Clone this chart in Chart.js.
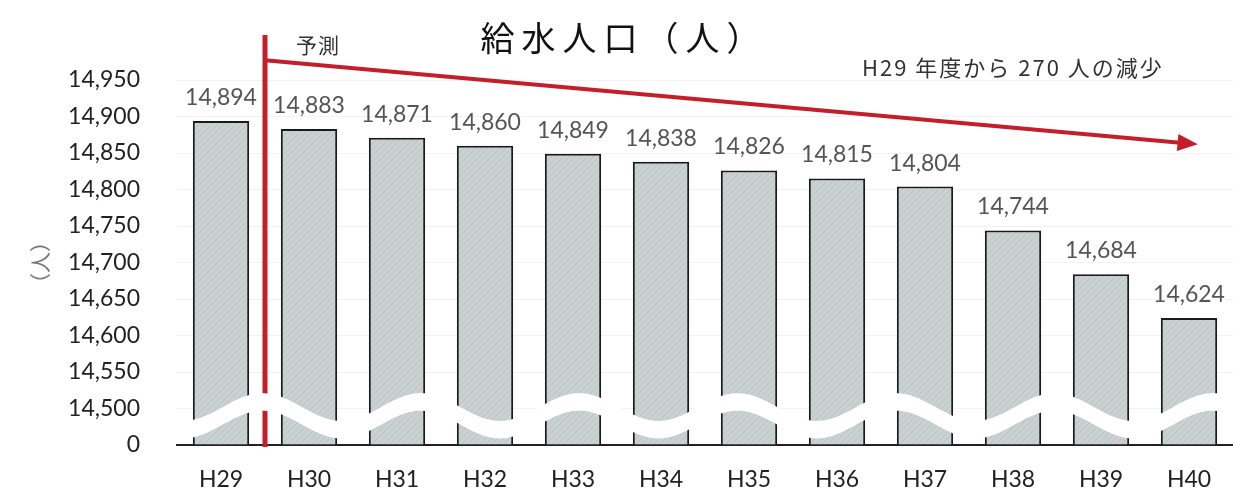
<!DOCTYPE html>
<html>
<head>
<meta charset="utf-8">
<script src="https://cdn.jsdelivr.net/npm/chart.js@4"></script>
<style>
  html, body { margin: 0; padding: 0; background: #fff; overflow: hidden; }
  canvas { display: block; }
</style>
</head>
<body>
<canvas id="chart" width="1233" height="491"></canvas>
<script>
// === Data ===
const categories = ['H29', 'H30', 'H31', 'H32', 'H33', 'H34', 'H35', 'H36', 'H37', 'H38', 'H39', 'H40'];
const population = [14894, 14883, 14871, 14860, 14849, 14838, 14826, 14815, 14804, 14744, 14684, 14624];
const tickLabels = ['0', '14,500', '14,550', '14,600', '14,650', '14,700', '14,750', '14,800', '14,850', '14,900', '14,950'];

// axis is broken between 0 and 14,500: one step covers the gap
const breakBase = 14450;
const axisStep = 50;

const titleText = '給水人口（人）';
const forecastText = '予測';
const noteText = 'H29 年度から 270 人の減少';

// trend arrow, in (category index, population)
const arrowFrom = { x: 0.5, y: 14977 };
const arrowTo = { x: 11.1, y: 14862 };

const RED = '#c41e2a';
const NUM_FONT = 'Lato, "DejaVu Sans", sans-serif';
const JP_FONT = '"Noto Sans CJK JP", "Noto Sans", sans-serif';

// === Bar texture ===
function makePattern() {
    const c = document.createElement('canvas');
    c.width = 6; c.height = 6;
    const g = c.getContext('2d');
    g.fillStyle = '#cad1d1';
    g.fillRect(0, 0, 6, 6);
    g.strokeStyle = '#bac2c2';
    g.lineWidth = 1;
    g.beginPath();
    g.moveTo(0, 6); g.lineTo(6, 0);
    g.moveTo(-3, 3); g.lineTo(3, -3);
    g.moveTo(3, 9); g.lineTo(9, 3);
    g.stroke();
    return document.getElementById('chart').getContext('2d').createPattern(c, 'repeat');
}

// === Overlays: labels, forecast line, wave break, arrow ===
const overlay = {
    id: 'overlay',
    afterDatasetsDraw(chart) {
        const { ctx, chartArea } = chart;
        const xs = chart.scales.x, ys = chart.scales.y;
        const step = xs.getPixelForValue(1) - xs.getPixelForValue(0);
        const catX = u => xs.getPixelForValue(0) + u * step;
        const valY = v => ys.getPixelForValue(v - breakBase);

        // value labels
        ctx.save();
        ctx.font = '23px ' + NUM_FONT;
        ctx.fillStyle = '#555';
        ctx.textAlign = 'center';
        ctx.textBaseline = 'bottom';
        chart.getDatasetMeta(0).data.forEach((bar, i) => {
            ctx.fillText(population[i].toLocaleString('en-US'), bar.x, bar.y - 12);
        });
        ctx.restore();

        // forecast divider
        const divX = catX(0.5);
        ctx.save();
        ctx.strokeStyle = RED;
        ctx.lineWidth = 5;
        ctx.beginPath();
        ctx.moveTo(divX, chartArea.top - 45);
        ctx.lineTo(divX, chartArea.bottom + 2);
        ctx.stroke();
        ctx.restore();

        // white wave across the axis break
        const mid = 40, amp = 19, half = 12, period = 1.8, peak = 0.47;
        const waveY = (px, off) => {
            const u = (px - xs.getPixelForValue(0)) / step;
            return ys.getPixelForValue(mid + off + amp * Math.cos(2 * Math.PI * (u - peak) / period));
        };
        ctx.save();
        ctx.fillStyle = '#fff';
        ctx.beginPath();
        for (let px = chartArea.left; px <= chartArea.right; px += 2) ctx.lineTo(px, waveY(px, half));
        for (let px = chartArea.right; px >= chartArea.left; px -= 2) ctx.lineTo(px, waveY(px, -half));
        ctx.closePath();
        ctx.fill();
        ctx.restore();

        // trend arrow
        const x1 = catX(arrowFrom.x), y1 = valY(arrowFrom.y);
        const x2 = catX(arrowTo.x), y2 = valY(arrowTo.y);
        const ang = Math.atan2(y2 - y1, x2 - x1);
        const head = 22;
        ctx.save();
        ctx.strokeStyle = RED;
        ctx.fillStyle = RED;
        ctx.lineWidth = 4;
        ctx.beginPath();
        ctx.moveTo(divX, y1);
        ctx.lineTo(x2 - head * 0.8 * Math.cos(ang), y2 - head * 0.8 * Math.sin(ang));
        ctx.stroke();
        ctx.beginPath();
        ctx.moveTo(x2, y2);
        ctx.lineTo(x2 - head * Math.cos(ang - 0.4), y2 - head * Math.sin(ang - 0.4));
        ctx.lineTo(x2 - head * Math.cos(ang + 0.4), y2 - head * Math.sin(ang + 0.4));
        ctx.closePath();
        ctx.fill();
        ctx.restore();

        // texts
        ctx.save();
        ctx.fillStyle = '#111';
        ctx.textBaseline = 'middle';
        ctx.textAlign = 'center';
        ctx.font = '34px ' + JP_FONT;
        ctx.letterSpacing = '7px';
        ctx.fillText(titleText, 624, 38);
        ctx.font = '21px ' + JP_FONT;
        ctx.letterSpacing = '1px';
        ctx.fillStyle = '#333';
        ctx.textAlign = 'left';
        ctx.fillText(forecastText, divX + 31, 45);
        ctx.font = '22px ' + JP_FONT;
        ctx.letterSpacing = '2px';
        ctx.fillText(noteText, 862, 68);
        ctx.restore();
    }
};

new Chart(document.getElementById('chart'), {
    type: 'bar',
    data: {
        labels: categories,
        datasets: [{
            data: population.map(v => v - breakBase),
            backgroundColor: makePattern(),
            borderColor: '#1a1a1a',
            borderWidth: 2,
            borderSkipped: 'start',
            barPercentage: 0.64,
            categoryPercentage: 1
        }]
    },
    options: {
        responsive: false,
        animation: false,
        events: [],
        layout: { padding: { top: 80, right: 0, bottom: 0, left: 0 } },
        plugins: {
            legend: { display: false },
            title: { display: false },
            tooltip: { enabled: false }
        },
        scales: {
            x: {
                afterFit: scale => { scale.height = 46; },
                grid: { display: false, drawTicks: false },
                border: { display: true, color: '#222', width: 2 },
                ticks: { color: '#222', font: { family: NUM_FONT, size: 23 }, padding: 21 }
            },
            y: {
                min: 0,
                max: (tickLabels.length - 1) * axisStep,
                afterFit: scale => { scale.width = 177; },
                border: { display: false },
                // long invisible tick marks keep the labels off the bars
                grid: { color: 'rgba(0,0,0,0.05)', drawTicks: true, tickLength: 32, tickColor: 'rgba(0,0,0,0)' },
                ticks: {
                    stepSize: axisStep,
                    padding: 5,
                    color: '#222',
                    font: { family: NUM_FONT, size: 23 },
                    callback: (value, i) => tickLabels[i]
                },
                title: {
                    display: true,
                    text: '（人）',
                    color: '#777',
                    font: { family: JP_FONT, size: 21 },
                    padding: { top: 27, bottom: 0 }
                }
            }
        }
    },
    plugins: [overlay]
});
</script>
</body>
</html>
